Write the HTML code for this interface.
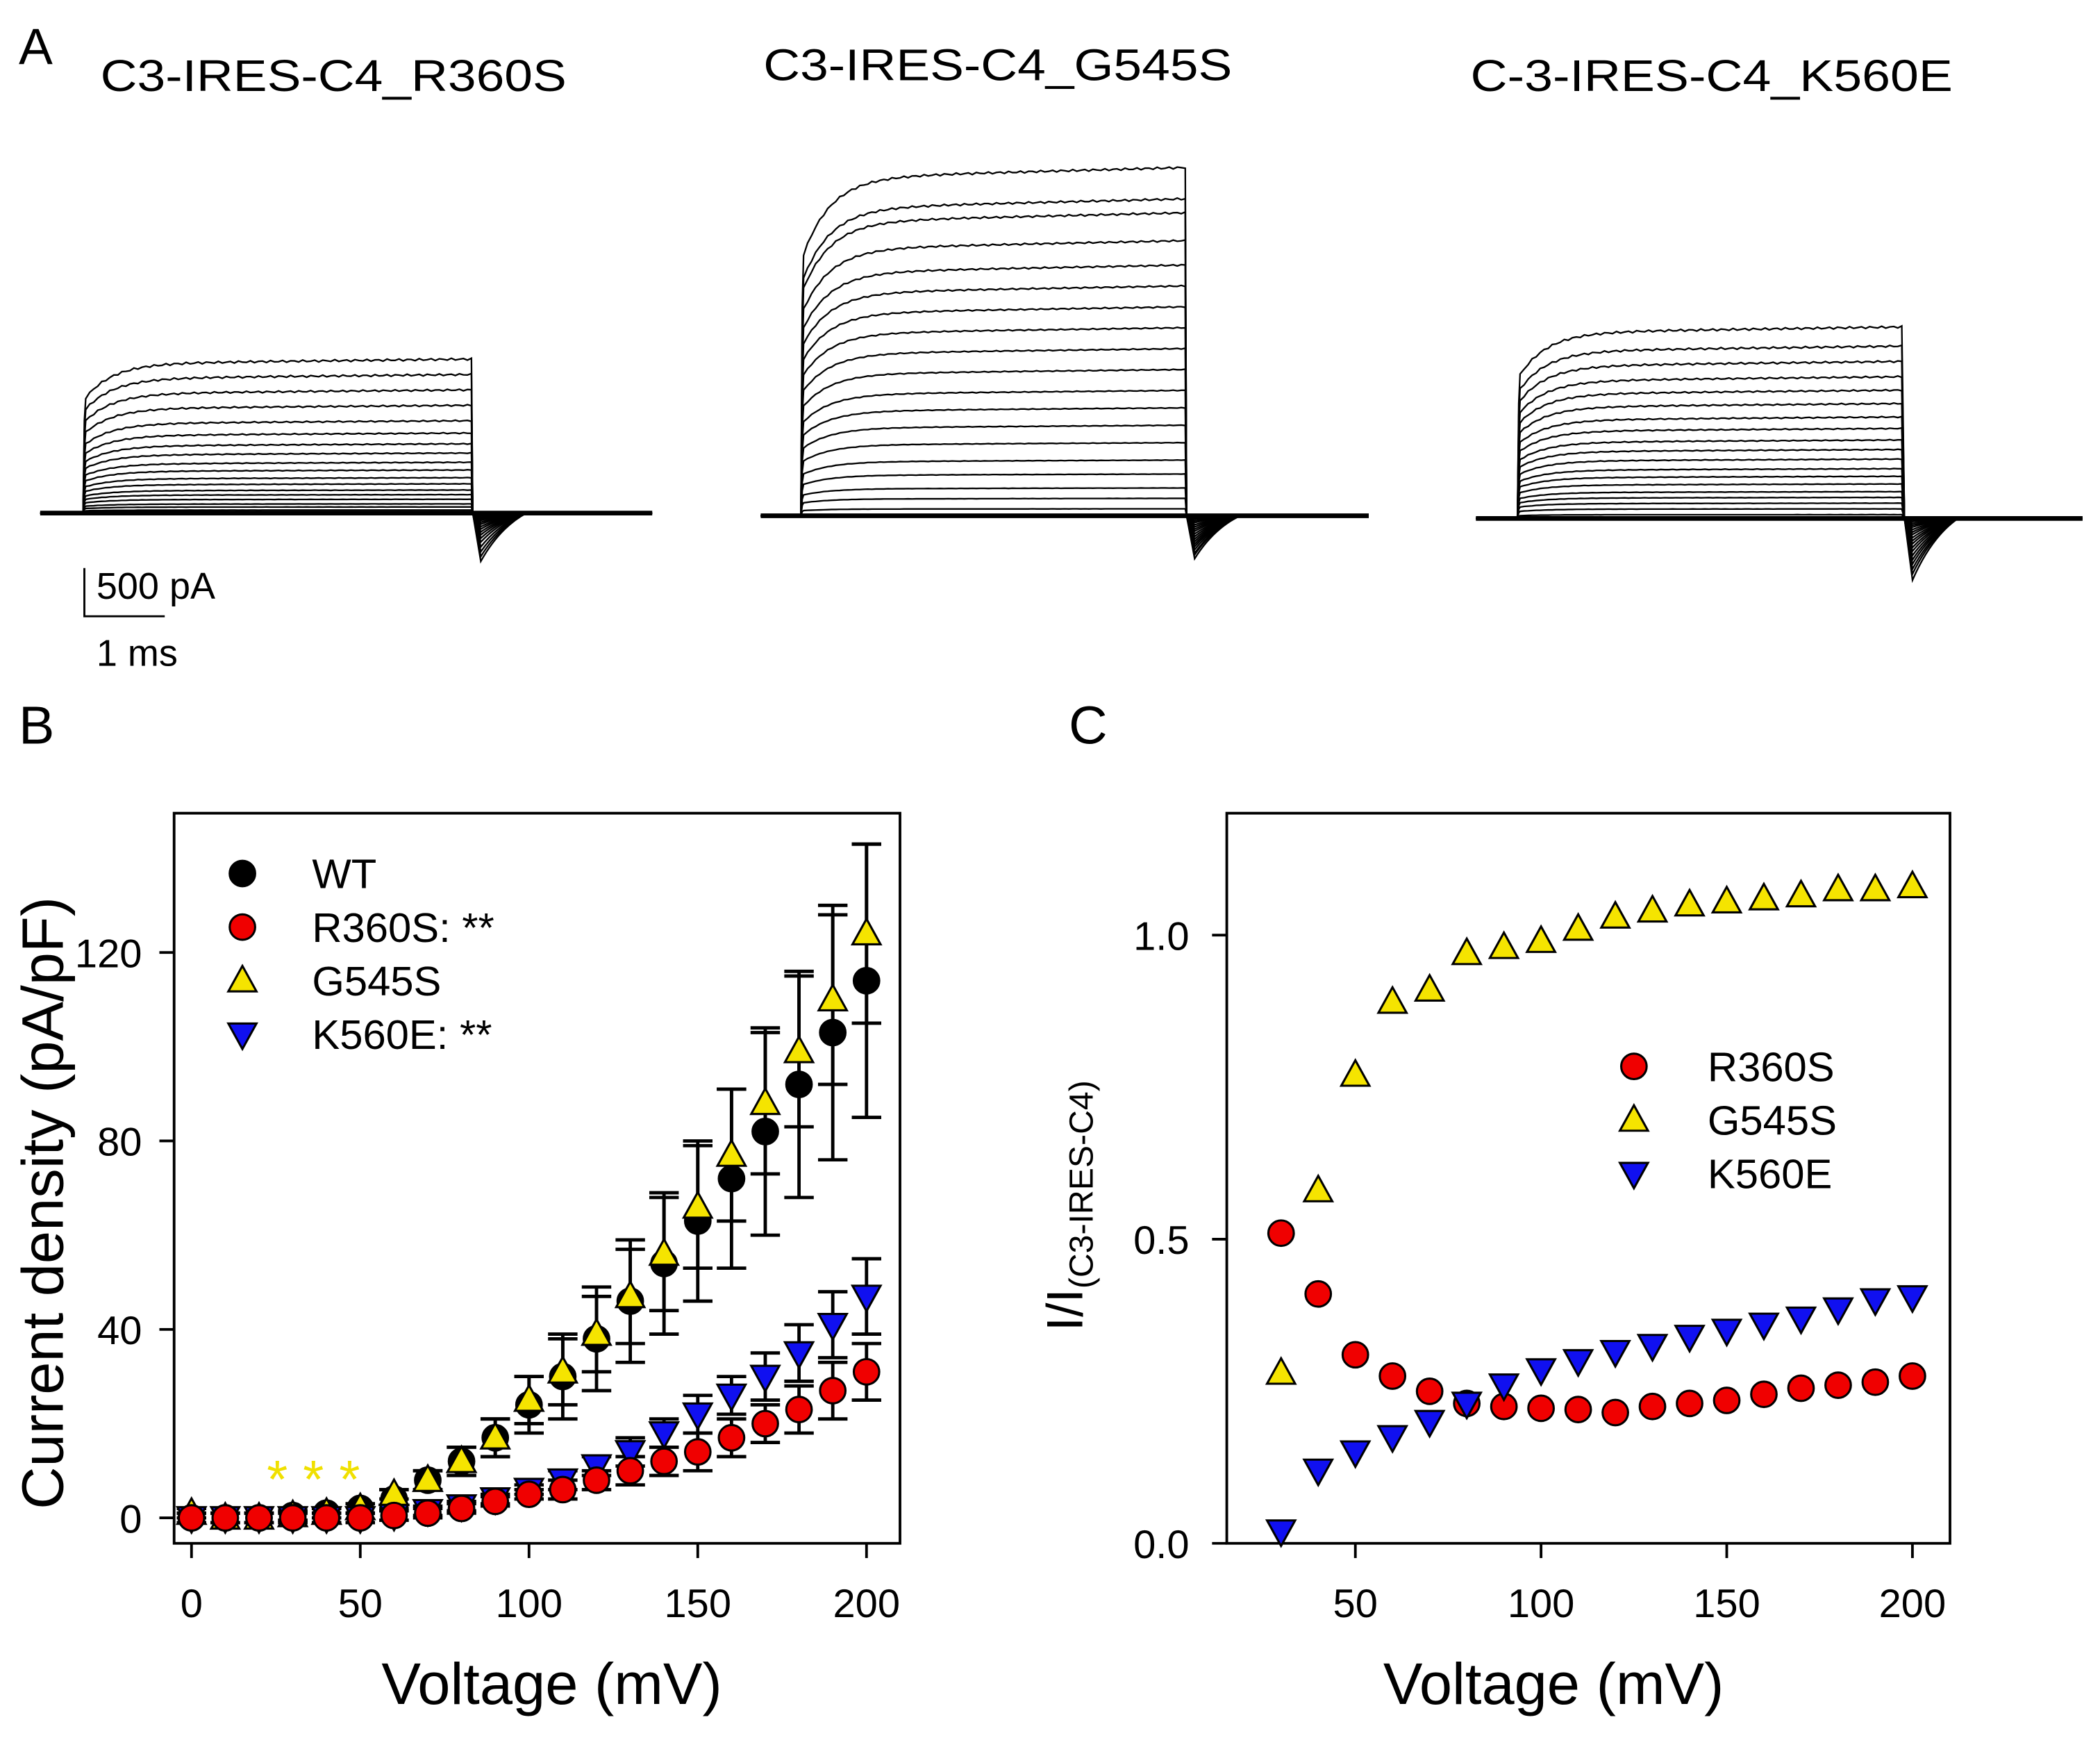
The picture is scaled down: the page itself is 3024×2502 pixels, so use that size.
<!DOCTYPE html>
<html><head><meta charset="utf-8"><style>
html,body{margin:0;padding:0;background:#fff;}
svg{display:block;font-family:"Liberation Sans",Arial,sans-serif;}
</style></head><body>
<svg id="fig" width="3024" height="2502" viewBox="0 0 1568 1297.3" xmlns="http://www.w3.org/2000/svg">
<rect width="1568" height="1297.3" fill="#fff"/>
<text x="14" y="48" font-size="38">A</text>
<text x="75" y="68" font-size="33" textLength="348" lengthAdjust="spacingAndGlyphs">C3-IRES-C4_R360S</text>
<text x="570" y="60" font-size="33" textLength="350" lengthAdjust="spacingAndGlyphs">C3-IRES-C4_G545S</text>
<text x="1098" y="68" font-size="33" textLength="360" lengthAdjust="spacingAndGlyphs">C-3-IRES-C4_K560E</text>
<g id="traces"></g>
<g>
<path d="M63 424 V460 H123" fill="none" stroke="#000" stroke-width="1.5"/>
<text x="72" y="447" font-size="28">500 pA</text>
<text x="72" y="497" font-size="28">1 ms</text>
</g>
<text x="14" y="555" font-size="40">B</text>
<text x="798" y="555" font-size="40">C</text>
<g id="chartB"></g>
<g id="chartC"></g>
</svg>
<script>
// ---- Panel B data ----
const volts = [0,10,20,30,40,50,60,70,80,90,100,110,120,130,140,150,160,170,180,190,200];
const wtVals = [0,0,0,0.5,1,2,4,8,12,17,24,30,38,46,54,63,72,82,92,103,114];
const wtErr = [1,1,1,1,1,1,2,2,3,4,6,9,11,13,15,17,19,22,24,27,29];
const r360Vals = [0,0,0,0,0,0,0.5,1,2,3.5,5,6,8,10,12,14,17,20,23,27,31];
const r360Err = [1,1,1,1,1,1,1,1,1,1,1,2,2,3,3,4,4,4,5,6,6];
const g545Vals = [1,0,0,0.5,1,2,5,8,12,17,25,31,39,47,56,66,77,88,99,110,124];
const g545Err = [1,1,1,1,1,1,1,2,3,4,5,7,8,10,12,13,14,15,16,18,19];
const k560Vals = [0,0,0,0,0,0,0.5,1.5,2.5,4,6,8,11,14,18,22,26,30,35,41,47];
const k560Err = [1,1,1,1,1,1,1,1,1,1,1,2,2,3,3,4,4,5,6,7,8];
const bXTicks = [0,50,100,150,200];
const bYTicks = [0,40,80,120];
// ---- Panel C data ----
const voltsC = [30,40,50,60,70,80,90,100,110,120,130,140,150,160,170,180,190,200];
const cR360 = [0.51,0.41,0.31,0.275,0.25,0.23,0.225,0.222,0.22,0.215,0.225,0.23,0.235,0.245,0.255,0.26,0.265,0.275];
const cG545 = [0.28,0.58,0.77,0.89,0.91,0.97,0.98,0.99,1.01,1.03,1.04,1.05,1.055,1.06,1.065,1.075,1.075,1.08];
const cK560 = [0.02,0.12,0.15,0.175,0.2,0.23,0.26,0.285,0.30,0.315,0.325,0.34,0.35,0.36,0.37,0.385,0.40,0.405];
const cXTicks = [50,100,150,200];
const cYTicks = [0.0,0.5,1.0];
// ---- Trace amplitudes (relative) ----
const ampR = [0,0.01,0.02,0.04,0.06,0.09,0.12,0.15,0.19,0.23,0.28,0.33,0.39,0.45,0.52,0.6,0.7,0.8,0.9,1.0];
const ampG = [0,0.02,0.05,0.08,0.12,0.16,0.21,0.26,0.31,0.36,0.42,0.48,0.54,0.6,0.66,0.72,0.79,0.87,0.91,1.0];
const ampK = [0,0.02,0.05,0.08,0.11,0.14,0.18,0.22,0.26,0.31,0.36,0.41,0.47,0.53,0.6,0.67,0.74,0.82,0.9,1.0];

const NS='http://www.w3.org/2000/svg';
function mk(tag, attrs, parent){const e=document.createElementNS(NS,tag);for(const k in attrs)e.setAttribute(k,attrs[k]);parent.appendChild(e);return e;}

const tg=document.getElementById('traces');
function traceSet(x0,xOn,xOff,x1,base,top,amps,dip,name){
  const g=mk('g',{},tg);
  
  
  amps.forEach((a,i)=>{
    const h=(base-top)*a;
    let d=`M${x0} ${base} H${xOn} L${xOn+1} ${base-h*0.6}`;
    for(let x=xOn+2;x<=xOff;x+=3){const t=(x-xOn)/(xOff-xOn);const y=base-h*(1-0.25*Math.exp(-t*14))*(0.97+0.03*t)+Math.sin(x*1.3+i)*0.8*a;d+=` L${x} ${y.toFixed(1)}`;}
    d+=` L${xOff} ${base} L${xOff+6} ${base+dip*a} Q${xOff+20} ${base+dip*a*0.3} ${xOff+40} ${base} H${x1}`;
    mk('path',{d:d,fill:'none',stroke:'#000','stroke-width':'1.2'},g);
  });
  mk('path',{d:`M${x0} ${base} H${x1}`,stroke:'#000','stroke-width':'3.5'},g);
}
traceSet(30,62,353,487,383,268,ampR,36,'traces-r360s');
traceSet(568,598,886,1022,385,125,ampG,32,'traces-g545s');
traceSet(1102,1133,1422,1555,387,244,ampK,46,'traces-k560e');

function marker(g,type,x,y,fill){
  let e;
  if(type==='circle') e=mk('circle',{cx:x,cy:y,r:9.5,fill:fill,stroke:'#000','stroke-width':1.6},g);
  else if(type==='up') e=mk('polygon',{points:`${x},${y-11} ${x-10.5},${y+8} ${x+10.5},${y+8}`,fill:fill,stroke:'#000','stroke-width':1.6},g);
  else e=mk('polygon',{points:`${x},${y+11} ${x-10.5},${y-8} ${x+10.5},${y-8}`,fill:fill,stroke:'#000','stroke-width':1.6},g);
  return e;
}

// ---- Chart B ----
const gB=document.getElementById('chartB');
const bx=v=>143+v*2.52, by=v=>1133-v*3.517;
mk('rect',{x:130,y:607,width:542,height:545,fill:'none',stroke:'#000','stroke-width':2},gB);
bXTicks.forEach(t=>{mk('line',{x1:bx(t),y1:1152,x2:bx(t),y2:1163,stroke:'#000','stroke-width':2},gB);
  const tx=mk('text',{x:bx(t),y:1207,'font-size':30,'text-anchor':'middle'},gB);tx.textContent=t;});
bYTicks.forEach(t=>{mk('line',{x1:130,y1:by(t),x2:119,y2:by(t),stroke:'#000','stroke-width':2},gB);
  const tx=mk('text',{x:106,y:by(t)+11,'font-size':30,'text-anchor':'end'},gB);tx.textContent=t;});
let tt=mk('text',{x:412,y:1272,'font-size':44,'text-anchor':'middle'},gB);tt.textContent='Voltage (mV)';

tt=mk('text',{x:0,y:0,'font-size':44,'text-anchor':'middle',transform:'translate(47 898) rotate(-90)'},gB);tt.textContent='Current density (pA/pF)';

const seriesB=[[wtVals,wtErr,'circle','#000','wt'],[g545Vals,g545Err,'up','#f5e400','g545s'],[k560Vals,k560Err,'down','#1010f0','k560e'],[r360Vals,r360Err,'circle','#f00000','r360s']];
seriesB.forEach(s=>{volts.forEach((v,i)=>{const x=bx(v),y1=by(s[0][i]-s[1][i]),y2=by(s[0][i]+s[1][i]);
  const e=mk('path',{d:`M${x} ${y1} V${y2} M${x-11} ${y1} H${x+11} M${x-11} ${y2} H${x+11}`,stroke:'#000','stroke-width':2.5,fill:'none'},gB);
  
  });});
seriesB.forEach(s=>{volts.forEach((v,i)=>{const m=marker(gB,s[2],bx(v),by(s[0][i]),s[3]);
  
  });});
[207,234,261].forEach(x=>{const a=mk('text',{x:x,y:1118,'font-size':40,fill:'#f0e000','text-anchor':'middle'},gB);a.textContent='*';
  
  });
const legB=[['circle','#000','WT'],['circle','#f00000','R360S: **'],['up','#f5e400','G545S'],['down','#1010f0','K560E: **']];
legB.forEach((l,i)=>{const y=652+i*40;const g=mk('g',{},gB);
  
  
  marker(g,l[0],181,y,l[1]);const t=mk('text',{x:233,y:y+11,'font-size':31},g);t.textContent=l[2];});

// ---- Chart C ----
const gC=document.getElementById('chartC');
const cx=v=>1012+(v-50)*2.773, cy=v=>1152-v*454;
mk('rect',{x:916,y:607,width:540,height:545,fill:'none',stroke:'#000','stroke-width':2},gC);
cXTicks.forEach(t=>{mk('line',{x1:cx(t),y1:1152,x2:cx(t),y2:1163,stroke:'#000','stroke-width':2},gC);
  const tx=mk('text',{x:cx(t),y:1207,'font-size':30,'text-anchor':'middle'},gC);tx.textContent=t;});
cYTicks.forEach(t=>{mk('line',{x1:916,y1:cy(t),x2:905,y2:cy(t),stroke:'#000','stroke-width':2},gC);
  const tx=mk('text',{x:888,y:cy(t)+11,'font-size':30,'text-anchor':'end'},gC);tx.textContent=t.toFixed(1);});
tt=mk('text',{x:1160,y:1272,'font-size':44,'text-anchor':'middle'},gC);tt.textContent='Voltage (mV)';

tt=mk('text',{x:0,y:0,'font-size':38,'text-anchor':'middle',transform:'translate(808 900) rotate(-90)'},gC);

tt.innerHTML='I/I<tspan font-size="25" dy="8">(C3-IRES-C4)</tspan>';
const seriesC=[[cR360,'circle','#f00000','r360s'],[cG545,'up','#f5e400','g545s'],[cK560,'down','#1010f0','k560e']];
seriesC.forEach(s=>{voltsC.forEach((v,i)=>{const m=marker(gC,s[1],cx(v),cy(s[0][i]),s[2]);
  
  });});
const legC=[['circle','#f00000','R360S'],['up','#f5e400','G545S'],['down','#1010f0','K560E']];
legC.forEach((l,i)=>{const y=796+i*40;const g=mk('g',{},gC);
  
  
  marker(g,l[0],1220,y,l[1]);const t=mk('text',{x:1275,y:y+11,'font-size':31},g);t.textContent=l[2];});
</script>
</body></html>
